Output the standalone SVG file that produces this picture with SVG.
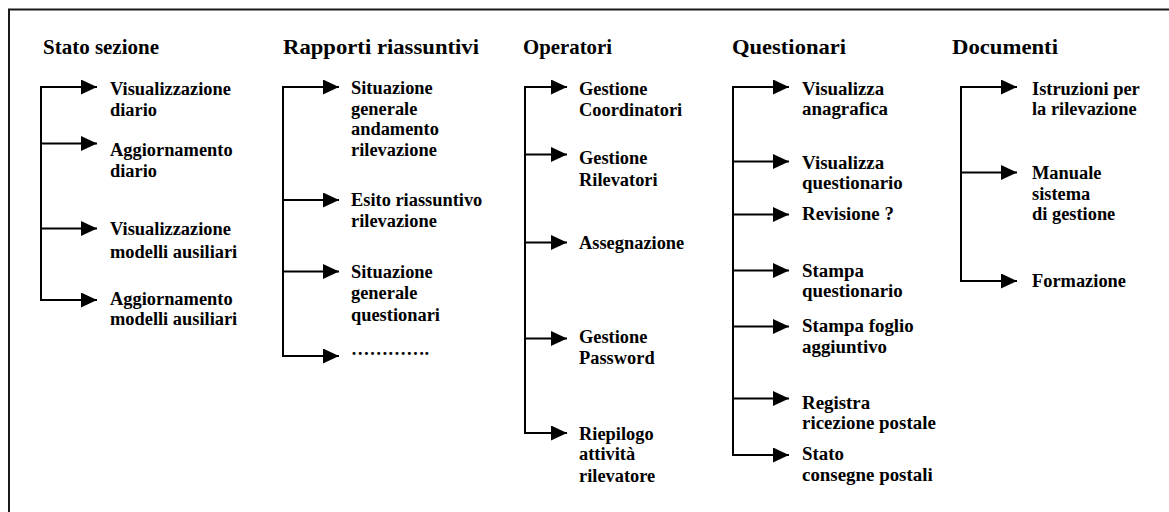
<svg xmlns="http://www.w3.org/2000/svg" width="1169" height="512" viewBox="0 0 1169 512">
  <style>
    text { font-family: "Liberation Serif", "Times New Roman", serif; font-weight: bold; fill: #000; }
    .head { font-size: 21.5px; }
    .item { font-size: 18.4px; }
    .item-q { font-size: 18.9px; }
    .frame { fill: none; stroke: #1a1a1a; stroke-width: 2; }
    .link { fill: none; stroke: #000; stroke-width: 2; }
  </style>
  <defs>
    <marker id="arrow" markerUnits="userSpaceOnUse" markerWidth="17" markerHeight="16" refX="16" refY="7.5" orient="auto">
      <path d="M0,0 L16,7.5 L0,15 Z" fill="#000"/>
    </marker>
  </defs>

  <rect width="1169" height="512" fill="#fff"/>
  <!-- open frame: top and left edges only -->
  <path class="frame" d="M9,512 V9.5 H1169"/>

  <!-- section headings -->
  <g id="head-stato"><text class="head" x="43" y="53.5" textLength="116" lengthAdjust="spacingAndGlyphs">Stato sezione</text></g>
  <g id="head-rapporti"><text class="head" x="283" y="53.5" textLength="196" lengthAdjust="spacingAndGlyphs">Rapporti riassuntivi</text></g>
  <g id="head-operatori"><text class="head" x="523" y="53.5" textLength="89" lengthAdjust="spacingAndGlyphs">Operatori</text></g>
  <g id="head-questionari"><text class="head" x="732" y="53.5" textLength="114" lengthAdjust="spacingAndGlyphs">Questionari</text></g>
  <g id="head-documenti"><text class="head" x="952" y="53.5" textLength="106" lengthAdjust="spacingAndGlyphs">Documenti</text></g>

  <!-- connectors: vertical trunks and arrowed branches -->
  <g id="connectors">
    <!-- Stato sezione -->
    <path class="link" d="M41,86 V301"/>
    <line class="link" x1="41" y1="87" x2="97" y2="87" marker-end="url(#arrow)"/>
    <line class="link" x1="41" y1="143.5" x2="97" y2="143.5" marker-end="url(#arrow)"/>
    <line class="link" x1="41" y1="228.5" x2="97" y2="228.5" marker-end="url(#arrow)"/>
    <line class="link" x1="40" y1="300" x2="97" y2="300" marker-end="url(#arrow)"/>

    <!-- Rapporti riassuntivi -->
    <path class="link" d="M283,86 V357"/>
    <line class="link" x1="283" y1="87" x2="339" y2="87" marker-end="url(#arrow)"/>
    <line class="link" x1="283" y1="200" x2="339" y2="200" marker-end="url(#arrow)"/>
    <line class="link" x1="283" y1="271.5" x2="339" y2="271.5" marker-end="url(#arrow)"/>
    <line class="link" x1="282" y1="356" x2="339" y2="356" marker-end="url(#arrow)"/>

    <!-- Operatori -->
    <path class="link" d="M525,86 V434"/>
    <line class="link" x1="525" y1="87" x2="567" y2="87" marker-end="url(#arrow)"/>
    <line class="link" x1="525" y1="154.5" x2="567" y2="154.5" marker-end="url(#arrow)"/>
    <line class="link" x1="525" y1="242.5" x2="567" y2="242.5" marker-end="url(#arrow)"/>
    <line class="link" x1="525" y1="338.5" x2="567" y2="338.5" marker-end="url(#arrow)"/>
    <line class="link" x1="524" y1="433" x2="567" y2="433" marker-end="url(#arrow)"/>

    <!-- Questionari -->
    <path class="link" d="M733,86 V456"/>
    <line class="link" x1="733" y1="87" x2="789" y2="87" marker-end="url(#arrow)"/>
    <line class="link" x1="733" y1="161.5" x2="789" y2="161.5" marker-end="url(#arrow)"/>
    <line class="link" x1="733" y1="214.5" x2="789" y2="214.5" marker-end="url(#arrow)"/>
    <line class="link" x1="733" y1="270.5" x2="789" y2="270.5" marker-end="url(#arrow)"/>
    <line class="link" x1="733" y1="326.5" x2="789" y2="326.5" marker-end="url(#arrow)"/>
    <line class="link" x1="733" y1="398.5" x2="789" y2="398.5" marker-end="url(#arrow)"/>
    <line class="link" x1="732" y1="455" x2="789" y2="455" marker-end="url(#arrow)"/>

    <!-- Documenti -->
    <path class="link" d="M961,86 V282"/>
    <line class="link" x1="961" y1="87" x2="1017" y2="87" marker-end="url(#arrow)"/>
    <line class="link" x1="961" y1="172.5" x2="1017" y2="172.5" marker-end="url(#arrow)"/>
    <line class="link" x1="960" y1="281" x2="1017" y2="281" marker-end="url(#arrow)"/>
  </g>

  <!-- Stato sezione items -->
  <g id="vis-diario"><text class="item" x="110" y="95">Visualizzazione<tspan x="110" y="115.5">diario</tspan></text></g>
  <g id="agg-diario"><text class="item" x="110" y="156">Aggiornamento<tspan x="110" y="176.5">diario</tspan></text></g>
  <g id="vis-modelli"><text class="item" x="110" y="235">Visualizzazione<tspan x="110" y="257.5">modelli ausiliari</tspan></text></g>
  <g id="agg-modelli"><text class="item" x="110" y="305">Aggiornamento<tspan x="110" y="324.5">modelli ausiliari</tspan></text></g>

  <!-- Rapporti riassuntivi items -->
  <g id="sit-andamento"><text class="item" x="351" y="94">Situazione<tspan x="351" y="114.5">generale</tspan><tspan x="351" y="135">andamento</tspan><tspan x="351" y="156">rilevazione</tspan></text></g>
  <g id="esito"><text class="item" x="351" y="205.5">Esito riassuntivo<tspan x="351" y="226.5">rilevazione</tspan></text></g>
  <g id="sit-questionari"><text class="item" x="351" y="278">Situazione<tspan x="351" y="298.5">generale</tspan><tspan x="351" y="320.5">questionari</tspan></text></g>
  <g id="altro"><text class="item" x="351" y="355">………….</text></g>

  <!-- Operatori items -->
  <g id="gest-coord"><text class="item" x="579" y="94.5">Gestione<tspan x="579" y="116">Coordinatori</tspan></text></g>
  <g id="gest-ril"><text class="item" x="579" y="163.5">Gestione<tspan x="579" y="186">Rilevatori</tspan></text></g>
  <g id="assegnazione"><text class="item" x="579" y="248.5">Assegnazione</text></g>
  <g id="gest-pwd"><text class="item" x="579" y="343">Gestione<tspan x="579" y="363.5">Password</tspan></text></g>
  <g id="riepilogo"><text class="item" x="579" y="439.5">Riepilogo<tspan x="579" y="460">attività</tspan><tspan x="579" y="481.5">rilevatore</tspan></text></g>

  <!-- Questionari items -->
  <g id="vis-anag"><text class="item-q" x="802" y="95">Visualizza<tspan x="802" y="115">anagrafica</tspan></text></g>
  <g id="vis-quest"><text class="item-q" x="802" y="168.5">Visualizza<tspan x="802" y="188.5">questionario</tspan></text></g>
  <g id="revisione"><text class="item-q" x="802" y="220">Revisione ?</text></g>
  <g id="stampa-quest"><text class="item-q" x="802" y="276.5">Stampa<tspan x="802" y="296.5">questionario</tspan></text></g>
  <g id="stampa-foglio"><text class="item-q" x="802" y="331.5">Stampa foglio<tspan x="802" y="352.5">aggiuntivo</tspan></text></g>
  <g id="registra"><text class="item-q" x="802" y="408.5">Registra<tspan x="802" y="428.5">ricezione postale</tspan></text></g>
  <g id="stato-consegne"><text class="item-q" x="802" y="460">Stato<tspan x="802" y="480.5">consegne postali</tspan></text></g>

  <!-- Documenti items -->
  <g id="istruzioni"><text class="item" x="1032" y="94.5">Istruzioni per<tspan x="1032" y="115">la rilevazione</tspan></text></g>
  <g id="manuale"><text class="item" x="1032" y="178.5">Manuale<tspan x="1032" y="199.5">sistema</tspan><tspan x="1032" y="220">di gestione</tspan></text></g>
  <g id="formazione"><text class="item" x="1032" y="286.5">Formazione</text></g>
</svg>
